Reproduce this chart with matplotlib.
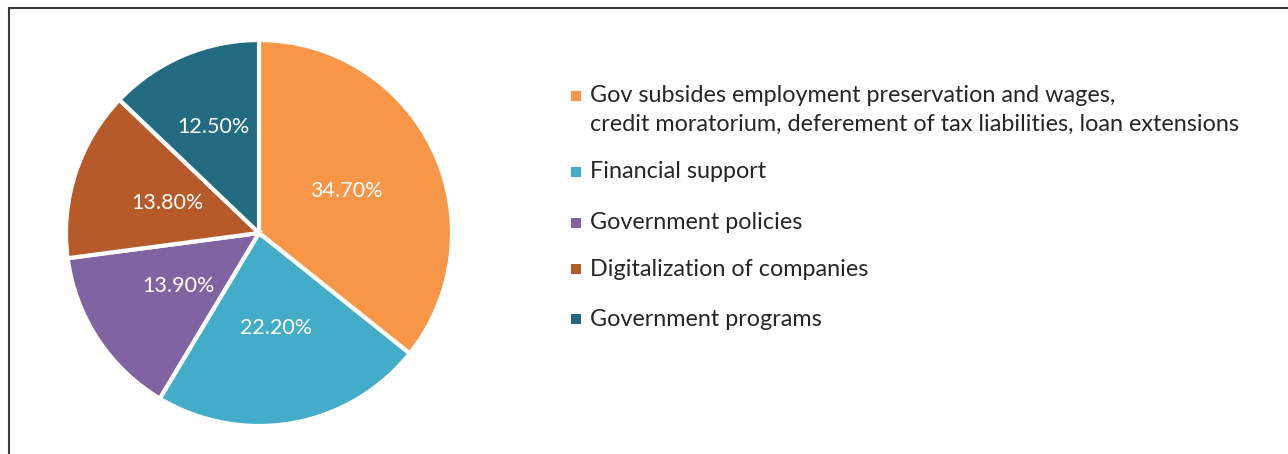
import numpy as np
import matplotlib.pyplot as plt
from matplotlib.patches import Rectangle

labels = [
    "Gov subsides employment preservation and wages,\ncredit moratorium, deferement of tax liabilities, loan extensions",
    "Financial support",
    "Government policies",
    "Digitalization of companies",
    "Government programs",
]
shares = [34.7, 22.2, 13.9, 13.8, 12.5]
colors = ["#F79646", "#43ACC8", "#8064A2", "#B65A2A", "#236B80"]

plt.rcParams["font.family"] = ["Lato", "DejaVu Sans"]

W, H = 1288, 454
fig = plt.figure(figsize=(W / 100, H / 100), dpi=100)

# outer frame (right and bottom fall outside the picture)
fig.patches.append(Rectangle((9 / W, -0.1), 1.2, 1.1 - 8 / H, transform=fig.transFigure,
                             fill=False, edgecolor="#3a3a3a", linewidth=1.5))

cx, cy, r = 259, 233, 193
ax = fig.add_axes([(cx - r) / W, (H - cy - r) / H, 2 * r / W, 2 * r / H])
wedges, texts = ax.pie(shares, colors=colors, startangle=90, counterclock=False,
                       labels=["%.2f%%" % s for s in shares], labeldistance=0.5,
                       wedgeprops=dict(edgecolor="white", linewidth=3),
                       textprops=dict(color="white", fontsize=15.5))
for t in texts:
    t.set_horizontalalignment("center")
    t.set_verticalalignment("center")
# the smallest slice label sits further out in the reference
w = wedges[-1]
mid = np.deg2rad((w.theta1 + w.theta2) / 2)
texts[-1].set_position((0.6 * np.cos(mid), 0.6 * np.sin(mid)))

ax.set_xlim(-1.0, 1.0)
ax.set_ylim(-1.0, 1.0)
ax.set_aspect("equal")
ax.axis("off")

# legend, placed by hand to follow the reference spacing
legend_y = [110, 172, 223, 269, 319]
for lab, col, y in zip(labels, colors, legend_y):
    lines = lab.count("\n") + 1
    top = y - (lines - 1) * 14.5
    fig.patches.append(Rectangle((571 / W, 1 - (top + 5) / H), 10 / W, 10 / H,
                                 transform=fig.transFigure, facecolor=col, edgecolor="none"))
    fig.text(590 / W, 1 - y / H, lab, fontsize=16.8, color="#262626",
             va="center", ha="left", linespacing=1.42)

fig.savefig("out.png", dpi=100)
